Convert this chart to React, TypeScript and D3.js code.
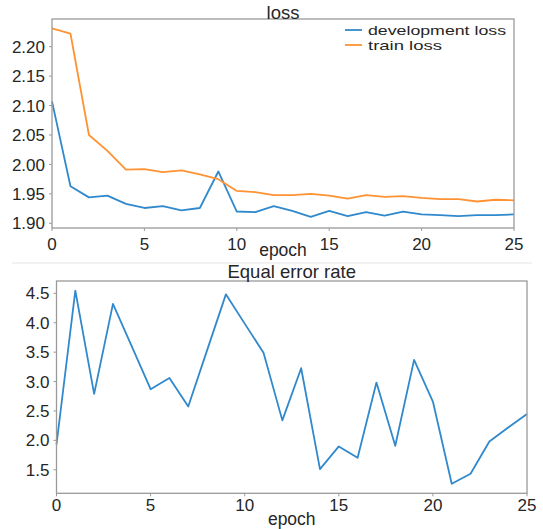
import React from "react";
import * as d3 from "d3";

const epochs = d3.range(0, 26);
const devLoss = [2.107, 1.963, 1.944, 1.947, 1.933, 1.926, 1.929, 1.922, 1.926, 1.988, 1.92, 1.919, 1.929, 1.921, 1.911, 1.921, 1.912, 1.919, 1.913, 1.92, 1.915, 1.914, 1.912, 1.914, 1.914, 1.915];
const trainLoss = [2.231, 2.222, 2.05, 2.023, 1.991, 1.992, 1.987, 1.99, 1.983, 1.975, 1.955, 1.953, 1.948, 1.948, 1.95, 1.947, 1.942, 1.948, 1.945, 1.946, 1.943, 1.941, 1.941, 1.937, 1.94, 1.939];
const eer = [1.93, 4.545, 2.79, 4.32, 3.6, 2.87, 3.06, 2.576, 3.53, 4.483, 3.985, 3.49, 2.34, 3.227, 1.512, 1.897, 1.704, 2.983, 1.908, 3.368, 2.66, 1.263, 1.433, 1.98, 2.22, 2.45];
const xTicks = [0, 5, 10, 15, 20, 25];
const lossTicks = [1.9, 1.95, 2.0, 2.05, 2.1, 2.15, 2.2];
const eerTicks = [1.5, 2.0, 2.5, 3.0, 3.5, 4.0, 4.5];
const legendLabels = ["development loss", "train loss"];

const BLUE = "#3089cc";
const ORANGE = "#ff9233";
const SPINE = "#9a9a9a";
const TEXT = "#262626";
const FONT = "'Liberation Sans', Arial, sans-serif";

type PanelProps = {
  left: number; right: number; top: number; bottom: number;
  yDomain: [number, number]; yTicks: number[]; yFmt: (v: number) => string;
  series: { values: number[]; color: string }[];
  title: string; titleY: number; tickBaseline: number; xlabelY: number;
};

function Panel(p: PanelProps) {
  const x = d3.scaleLinear().domain([0, 25]).range([p.left, p.right]);
  const y = d3.scaleLinear().domain(p.yDomain).range([p.bottom, p.top]);
  const line = d3.line<number>().x((_, i) => x(epochs[i])).y((d) => y(d));
  const cx = (p.left + p.right) / 2;
  return (
    <g>
      {p.series.map((s, i) => (
        <path key={i} d={line(s.values) || ""} fill="none" stroke={s.color} strokeWidth={1.8} strokeLinejoin="round" />
      ))}
      <rect x={p.left} y={p.top} width={p.right - p.left} height={p.bottom - p.top} fill="none" stroke={SPINE} strokeWidth={1.3} />
      {p.yTicks.map((t) => (
        <g key={"y" + t}>
          <line x1={p.left - 3} x2={p.left} y1={y(t)} y2={y(t)} stroke={SPINE} strokeWidth={1} />
          <text x={p.left - 7} y={y(t)} dy="0.36em" textAnchor="end" fontSize={17} fill={TEXT}>{p.yFmt(t)}</text>
        </g>
      ))}
      {xTicks.map((t) => (
        <g key={"x" + t}>
          <line x1={x(t)} x2={x(t)} y1={p.bottom} y2={p.bottom + 3} stroke={SPINE} strokeWidth={1} />
          <text x={x(t)} y={p.tickBaseline} textAnchor="middle" fontSize={17} fill={TEXT}>{t}</text>
        </g>
      ))}
      <text x={cx} y={p.titleY} textAnchor="middle" fontSize={18.5} fill={TEXT}>{p.title}</text>
      <text x={cx} y={p.xlabelY} textAnchor="middle" fontSize={17.5} fill={TEXT}>epoch</text>
    </g>
  );
}

export default function App() {
  return (
    <svg width={543} height={529} style={{ position: "absolute", left: 0, top: 0, fontFamily: FONT }}>
      <rect width={543} height={529} fill="#ffffff" />
      <line x1={12} x2={532} y1={263} y2={263} stroke="#f2f2f2" strokeWidth={2} />
      <Panel
        left={52} right={514} top={19} bottom={228}
        yDomain={[1.892, 2.247]} yTicks={lossTicks} yFmt={d3.format(".2f")}
        series={[{ values: devLoss, color: BLUE }, { values: trainLoss, color: ORANGE }]}
        title="loss" titleY={19} tickBaseline={250} xlabelY={256}
      />
      <g>
        {legendLabels.map((lab, i) => (
          <g key={lab}>
            <line x1={345} x2={362} y1={30 + i * 15} y2={30 + i * 15} stroke={i === 0 ? BLUE : ORANGE} strokeWidth={1.8} />
            <text x={368} y={30 + i * 15} dy="0.35em" fontSize={13} textLength={i === 0 ? 138 : 74} lengthAdjust="spacingAndGlyphs" fill={TEXT}>{lab}</text>
          </g>
        ))}
      </g>
      <Panel
        left={56.5} right={527} top={281} bottom={493.3}
        yDomain={[1.1, 4.71]} yTicks={eerTicks} yFmt={d3.format(".1f")}
        series={[{ values: eer, color: BLUE }]}
        title="Equal error rate" titleY={278} tickBaseline={510.5} xlabelY={524.5}
      />
    </svg>
  );
}
